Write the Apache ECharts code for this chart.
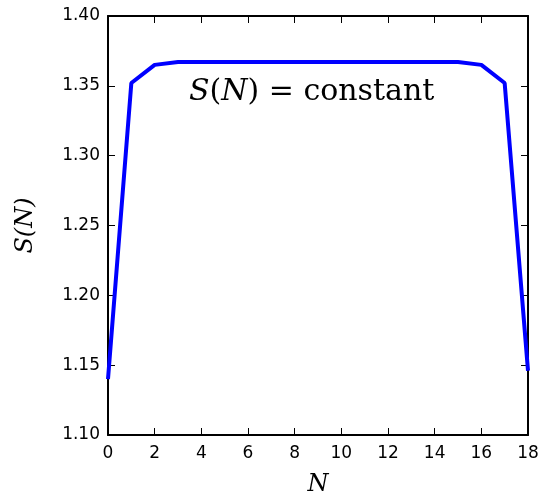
<!DOCTYPE html>
<html>
<head>
<meta charset="utf-8">
<script src="https://cdn.jsdelivr.net/npm/echarts@6/dist/echarts.min.js"></script>
<style>
html,body{margin:0;padding:0;background:#fff;}
#main{width:542px;height:502px;}
</style>
</head>
<body>
<div id="main"></div>
<script>
var nValues=[0,1,2,3,4,5,6,7,8,9,10,11,12,13,14,15,16,17,18];
var sValues=[1.140,1.352,1.365,1.367,1.367,1.367,1.367,1.367,1.367,1.367,1.367,1.367,1.367,1.367,1.367,1.367,1.365,1.352,1.146];
var xTicks=[0,2,4,6,8,10,12,14,16,18];
var yTicks=['1.10','1.15','1.20','1.25','1.30','1.35','1.40'];

var chart=echarts.init(document.getElementById('main'));
var tickFont={color:'#000',fontSize:17,fontFamily:'DejaVu Sans'};
var points=nValues.map(function(n,i){return [n,sValues[i]];});

var option={
	animation:false,
	backgroundColor:'#fff',
	grid:{left:108,right:14,top:16,bottom:65,containLabel:false},
	xAxis:[{
		type:'value',min:0,max:18,interval:2,
		name:'N',nameLocation:'middle',nameGap:38,
		nameTextStyle:{fontFamily:'DejaVu Serif',fontStyle:'italic',fontSize:24,color:'#000'},
		axisLine:{onZero:false,lineStyle:{color:'#000',width:2}},
		axisTick:{inside:true,length:7,lineStyle:{color:'#000',width:1}},
		axisLabel:Object.assign({margin:10},tickFont),
		splitLine:{show:false}
	},{
		type:'value',min:0,max:18,interval:2,position:'top',
		axisLine:{onZero:false,lineStyle:{color:'#000',width:2}},
		axisTick:{inside:true,length:7,lineStyle:{color:'#000',width:1}},
		axisLabel:{show:false},splitLine:{show:false}
	}],
	yAxis:[{
		type:'value',min:1.10,max:1.40,interval:0.05,
		name:'S(N)',nameLocation:'middle',nameGap:70,
		nameTextStyle:{fontFamily:'DejaVu Serif',fontStyle:'italic',fontSize:24,color:'#000'},
		axisLine:{onZero:false,lineStyle:{color:'#000',width:2}},
		axisTick:{inside:true,length:7,lineStyle:{color:'#000',width:1}},
		axisLabel:Object.assign({margin:8,formatter:function(v){return v.toFixed(2);}},tickFont),
		splitLine:{show:false}
	},{
		type:'value',min:1.10,max:1.40,interval:0.05,position:'right',
		axisLine:{onZero:false,lineStyle:{color:'#000',width:2}},
		axisTick:{inside:true,length:7,lineStyle:{color:'#000',width:1}},
		axisLabel:{show:false},splitLine:{show:false}
	}],
	graphic:[{
		type:'text',left:189,top:77,
		style:{
			text:'{i|S}{r|(}{i|N}{r|) = constant}',
			rich:{
				i:{fontFamily:'DejaVu Serif',fontStyle:'italic',fontSize:30,fill:'#000'},
				r:{fontFamily:'DejaVu Serif',fontSize:30,fill:'#000'}
			}
		}
	}],
	series:[{
		type:'line',
		data:points,
		showSymbol:false,
		lineStyle:{color:'#0000ff',width:4},
		itemStyle:{color:'#0000ff'},
		clip:true
	}]
};
chart.setOption(option);
</script>
</body>
</html>
